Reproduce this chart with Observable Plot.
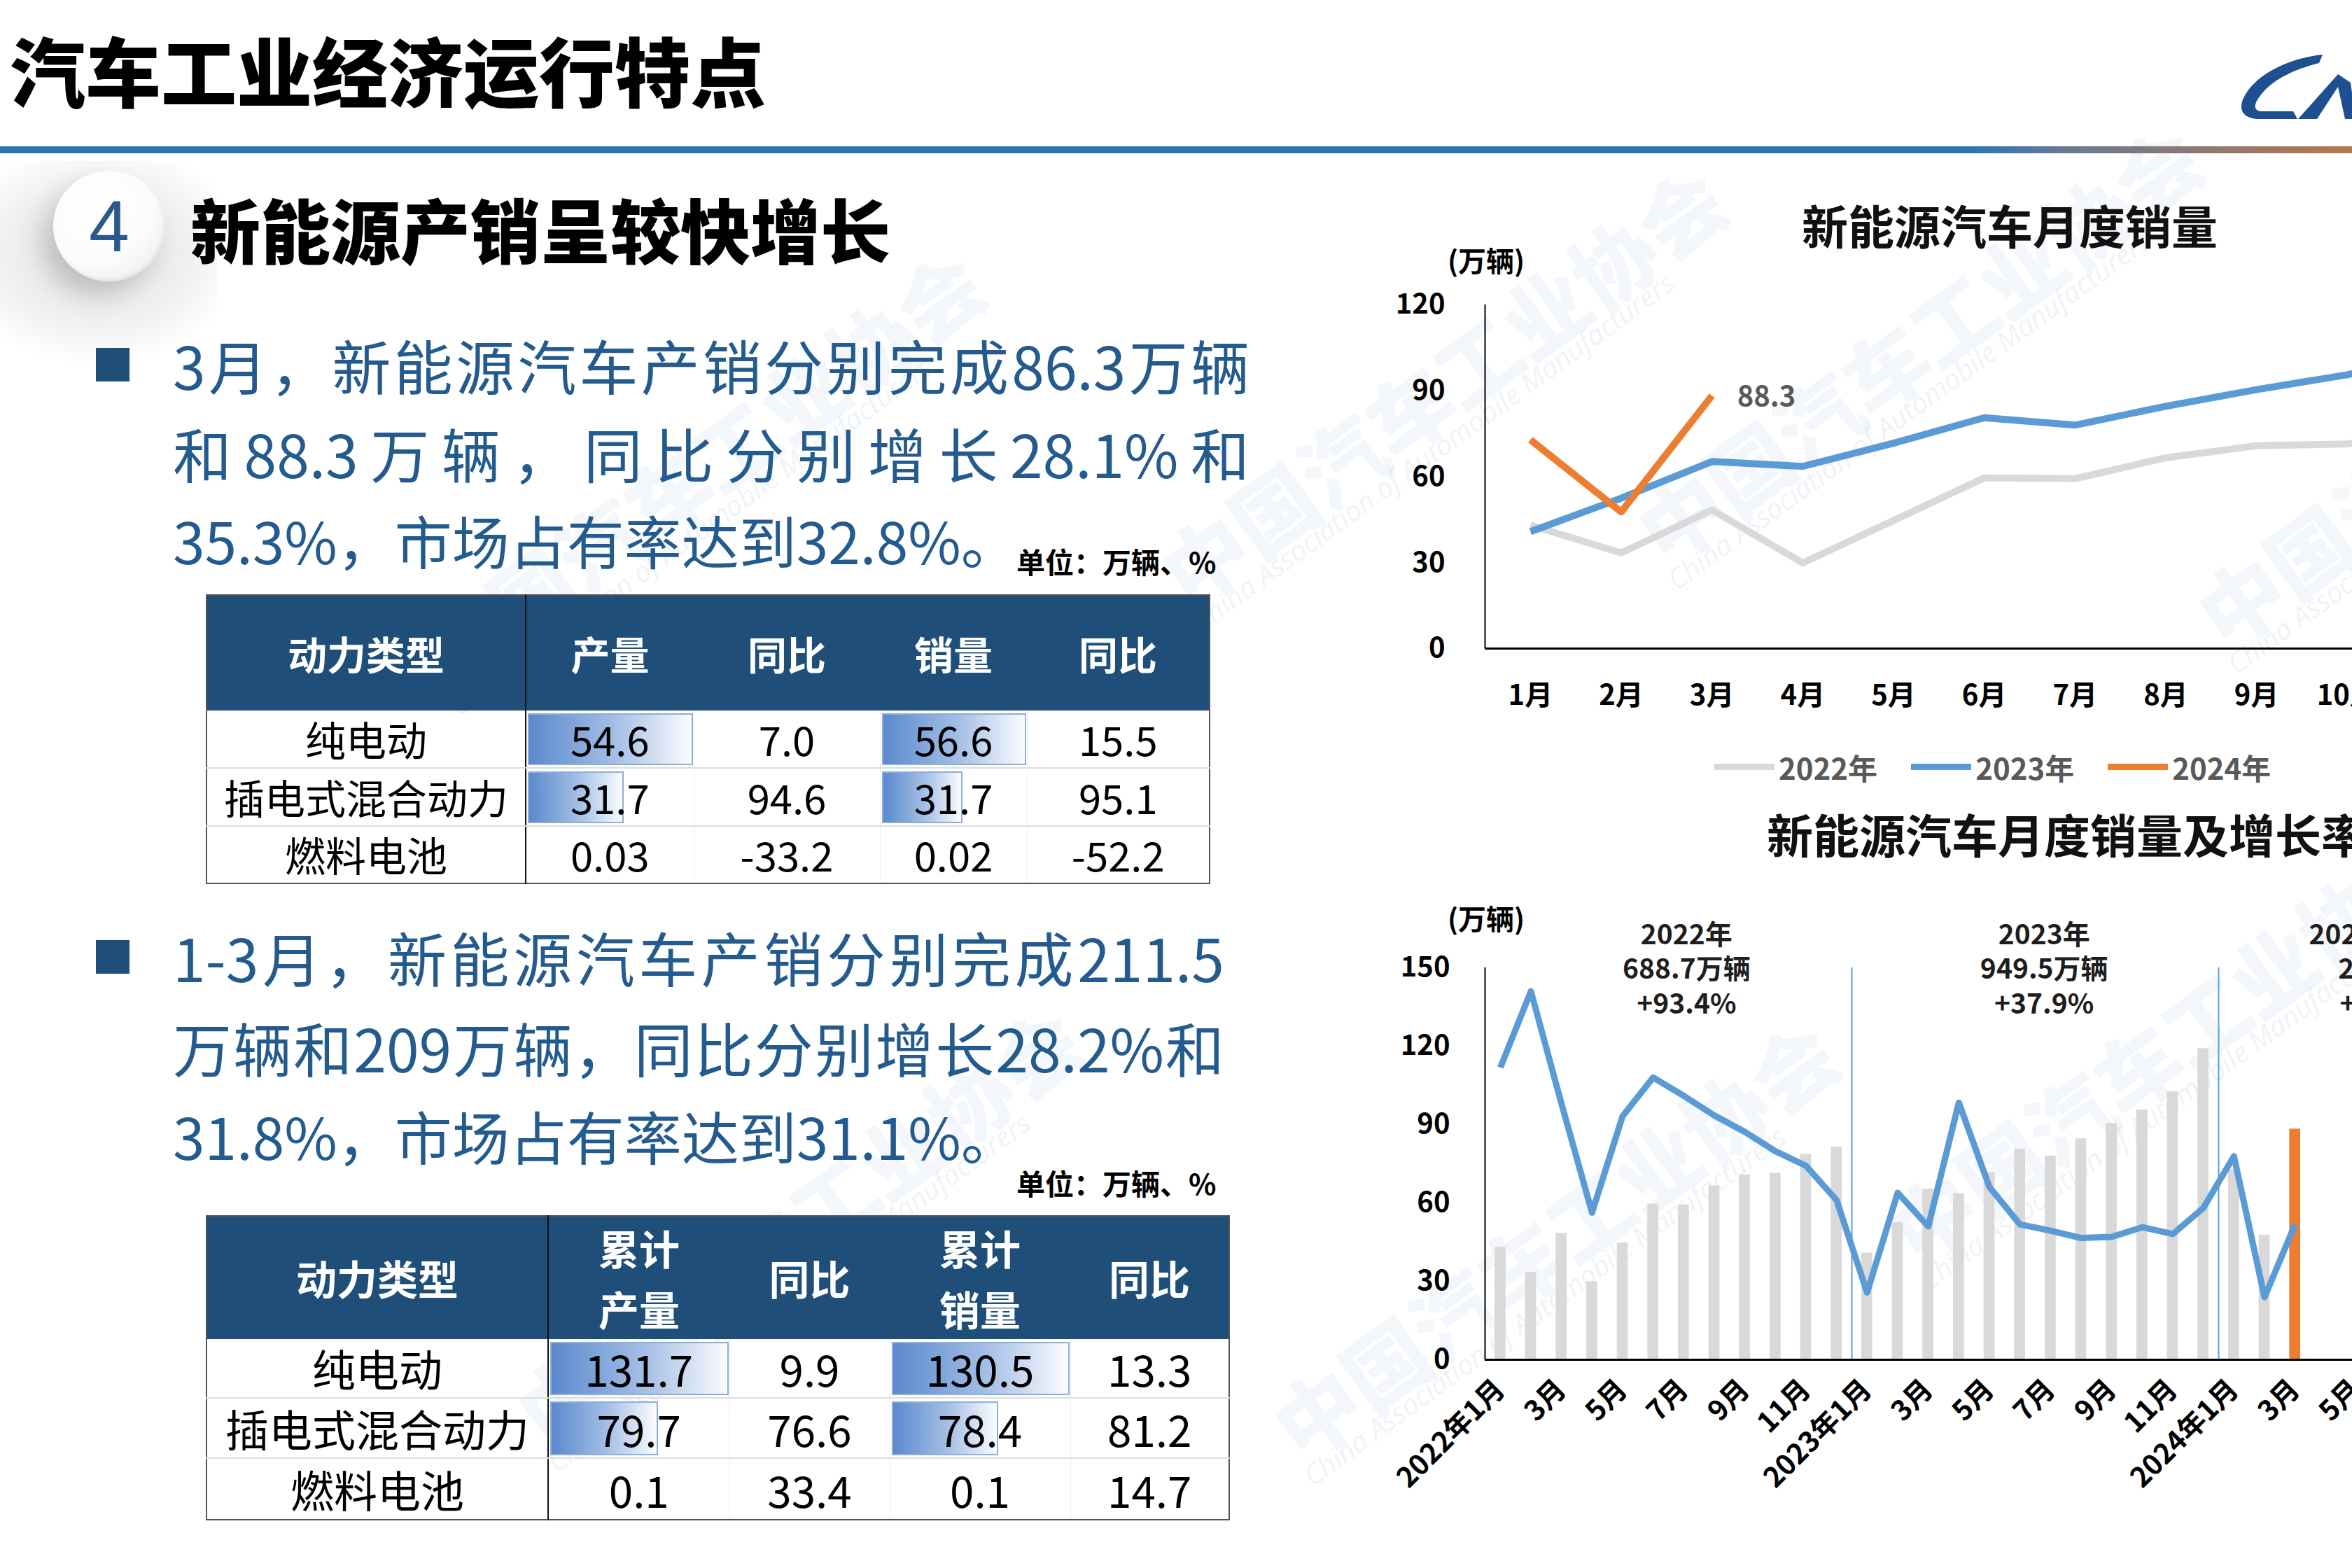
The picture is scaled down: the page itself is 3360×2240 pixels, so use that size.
<!DOCTYPE html>
<html><head><meta charset="utf-8">
<script src="https://cdn.jsdelivr.net/npm/d3@7"></script>
<script src="https://cdn.jsdelivr.net/npm/@observablehq/plot@0.6"></script>
<style>
html,body{margin:0;padding:0;}
body{width:3360px;height:2240px;overflow:hidden;position:relative;background:#fff;font-family:"Noto Sans CJK SC","Noto Sans",sans-serif;}
.abs{position:absolute;white-space:nowrap;}
.chart svg{max-width:none !important;}
.chart svg text{font-weight:700;}
table.t{position:absolute;border-collapse:collapse;table-layout:fixed;border:2px solid #555;}
table.t th{background:#1f4e79;color:#fff;font-weight:700;text-align:center;padding:0;line-height:1.5;}
table.t td{text-align:center;padding:0;color:#000;font-weight:400;position:relative;line-height:1.2;border-bottom:2px solid #dcdcdc;border-left:1px solid #ececec;}
table.t td.c0{border-right:2px solid #111;}
table.t th.c0{border-right:2px solid #111;}
table.t tr:last-child td{border-bottom:none;}
.bar{position:absolute;left:2px;top:4px;bottom:3px;background:linear-gradient(90deg,#5b89cd 0%,#a7c1e6 55%,#fbfcfe 100%);border:2px solid #8daedd;box-sizing:border-box;}
.cell{position:relative;z-index:1;}
.wm{position:absolute;white-space:nowrap;color:rgba(200,214,232,0.22);font-weight:900;transform-origin:0 0;}
.wme{position:absolute;white-space:nowrap;color:rgba(200,214,232,0.3);font-style:italic;transform-origin:0 0;font-family:"Open Sans",sans-serif;}
</style></head><body>
<script>
// ---------- DATA ----------
const pageTitle = "汽车工业经济运行特点";
const sectionNo = "4";
const sectionTitle = "新能源产销呈较快增长";
const bullet1Lines = ["3月，新能源汽车产销分别完成86.3万辆", "和88.3万辆，同比分别增长28.1%和", "35.3%，市场占有率达到32.8%。"];
const bullet2Lines = ["1-3月，新能源汽车产销分别完成211.5", "万辆和209万辆，同比分别增长28.2%和", "31.8%，市场占有率达到31.1%。"];
const unitText = "单位：万辆、%";

const powerTypes = ["纯电动", "插电式混合动力", "燃料电池"];
const table1Headers = ["动力类型", "产量", "同比", "销量", "同比"];
const marProduction = ["54.6", "31.7", "0.03"];
const marProductionYoY = ["7.0", "94.6", "-33.2"];
const marSales = ["56.6", "31.7", "0.02"];
const marSalesYoY = ["15.5", "95.1", "-52.2"];
const table2Headers = ["动力类型", "累计<br>产量", "同比", "累计<br>销量", "同比"];
const q1Production = ["131.7", "79.7", "0.1"];
const q1ProductionYoY = ["9.9", "76.6", "33.4"];
const q1Sales = ["130.5", "78.4", "0.1"];
const q1SalesYoY = ["13.3", "81.2", "14.7"];

const topTitle = "新能源汽车月度销量";
const unitLabel = "(万辆)";
const months = ["1月","2月","3月","4月","5月","6月","7月","8月","9月","10月","11月","12月"];
const seriesNames = ["2022年", "2023年", "2024年"];
const sales2022 = [43.1, 33.4, 48.4, 29.9, 44.7, 59.6, 59.3, 66.6, 70.8, 71.4, 78.6, 81.4];
const sales2023 = [40.8, 52.5, 65.3, 63.6, 71.7, 80.6, 78.0, 84.6, 90.4, 95.6, 102.6, 119.1];
const sales2024 = [72.9, 47.7, 88.3];
const topYTicks = [0, 30, 60, 90, 120];

const bottomTitle = "新能源汽车月度销量及增长率";
const bottomTickLabels = ["2022年1月","3月","5月","7月","9月","11月","2023年1月","3月","5月","7月","9月","11月","2024年1月","3月","5月","7月","9月","11月"];
const growthLine = [111.8, 141.0, 98.0, 56.3, 93.2, 108.0, 101.0, 93.5, 87.2, 79.8, 74.2, 61.1,
                    25.7, 63.9, 51.0, 98.4, 66.1, 51.8, 49.4, 46.6, 47.0, 50.7, 48.1, 58.1,
                    77.9, 23.9, 51.8];
const bottomYTicks = [0, 30, 60, 90, 120, 150];
const yearNames = ["2022年", "2023年", "2024年1-3月"];
const yearTotals = ["688.7万辆", "949.5万辆", "209万辆"];
const yearGrowth = ["+93.4%", "+37.9%", "+31.8%"];
const yearNoteMonth = [6, 17.7, 29];

// ---------- STYLE ----------
const FONT = "'Noto Sans CJK SC', 'Noto Sans', sans-serif";
const C_GREY = "#d9d9d9", C_BLUE = "#5b9bd5", C_ORANGE = "#ed7d31";
const seriesColors = [C_GREY, C_BLUE, C_ORANGE];
const TEXT_BLUE = "#245b8f";

function el(style, html, cls) {
  const e = document.createElement("div");
  e.setAttribute("style", style);
  if (cls) e.className = cls;
  if (html != null) e.innerHTML = html;
  document.body.appendChild(e);
  return e;
}

// ---------- watermarks ----------
[[560, 880], [1620, 760], [2300, 700], [1780, 1980], [2660, 1700], [3100, 820], [700, 1960]].forEach(([x, y]) => {
  el(`left:${x}px;top:${y}px;font-size:120px;transform:rotate(-36deg);`, "中国汽车工业协会", "wm");
  el(`left:${x + 70}px;top:${y + 110}px;font-size:40px;transform:rotate(-36deg);`, "China Association of Automobile Manufacturers", "wme");
});

// ---------- header ----------
el(`left:14px;top:44px;font-size:108px;line-height:108px;font-weight:900;color:#000;`, pageTitle, "abs");
el(`left:0;top:209px;width:3360px;height:10px;background:linear-gradient(90deg,#2e75b6 0%,#2e75b6 84%,#6a7a90 88%,#b5784f 100%);`, null, "abs");
el(`left:3190px;top:60px;width:180px;height:120px;`, `<svg width="180" height="120" viewBox="0 0 180 120">
<path d="M128,18 C85,22 32,44 15,80 C6,100 18,110 38,110 L92,110 L86,99 L42,99 C28,99 30,88 38,78 C56,52 92,38 123,30 Z" fill="#1d4f91"/>
<path d="M93,110 L120,110 L150,64 L160,110 L175,110 L168,58 L150,46 Z" fill="#1d4f91"/></svg>`, "abs");

el(`left:-70px;top:230px;width:380px;height:290px;background:radial-gradient(ellipse at 55% 45%, rgba(0,0,0,0.13) 0%, rgba(0,0,0,0.06) 45%, rgba(0,0,0,0) 72%);`, null, "abs");
el(`left:76px;top:244px;width:160px;height:158px;border-radius:50%;background:radial-gradient(circle at 38% 32%,#ffffff 0%,#fbfbfb 55%,#e6e6e6 100%);box-shadow:-16px 20px 34px rgba(0,0,0,0.16), inset -2px -3px 4px rgba(0,0,0,0.06);text-align:center;line-height:158px;font-size:104px;color:#2a5a8c;font-family:'Liberation Sans','Noto Sans',sans-serif;`, sectionNo, "abs");
el(`left:272px;top:276px;font-size:100px;line-height:100px;font-weight:900;color:#000;`, sectionTitle, "abs");

// ---------- bullet paragraphs ----------
function bullet(lines, squareTop, centers, width) {
  el(`left:137px;top:${squareTop}px;width:48px;height:48px;background:#1f4e79;`, null, "abs");
  lines.forEach((t, k) => {
    const just = k < lines.length - 1;
    el(`left:247px;top:${centers[k] - 42}px;${just ? `width:${width}px;text-align:justify;text-align-last:justify;` : ""}height:84px;line-height:84px;font-size:${just ? 84 : 82}px;color:${TEXT_BLUE};`, t, "abs");
  });
}
bullet(bullet1Lines, 497, [521, 647, 771], 1538);
bullet(bullet2Lines, 1343, [1367, 1496, 1622], 1502);
el(`left:1452px;top:778px;font-size:41px;line-height:46px;font-weight:700;color:#000;`, unitText, "abs");
el(`left:1452px;top:1666px;font-size:41px;line-height:46px;font-weight:700;color:#000;`, unitText, "abs");

// ---------- tables ----------
function buildTable({left, top, colW, headH, rowH, headers, cols, barCols, headFont, bodyFont}) {
  const t = document.createElement("table");
  t.className = "t";
  t.style.left = left + "px"; t.style.top = top + "px";
  t.style.width = d3.sum(colW) + "px";
  let html = "<colgroup>" + colW.map(w => `<col style="width:${w}px">`).join("") + "</colgroup>";
  html += `<tr style="height:${headH}px">` + headers.map((h, k) => `<th class="c${k}" style="font-size:${headFont}px">${h}</th>`).join("") + "</tr>";
  const scales = {};
  barCols.forEach(c => {
    const mx = d3.max(cols[c], d => +d);
    scales[c] = d3.scaleLinear().domain([0, mx]).range([0, colW[c] - 4]);
  });
  powerTypes.forEach((p, r) => {
    html += `<tr style="height:${rowH[r]}px">`;
    for (let c = 0; c < colW.length; c++) {
      const txt = c === 0 ? p : cols[c][r];
      let inner = `<span class="cell">${txt}</span>`;
      if (scales[c]) {
        const w = scales[c](+cols[c][r]);
        if (w > 6) inner = `<div class="bar" style="width:${w}px"></div>` + inner;
      }
      html += `<td class="c${c}" style="font-size:${bodyFont}px">${inner}</td>`;
    }
    html += "</tr>";
  });
  t.innerHTML = html;
  document.body.appendChild(t);
}
buildTable({left: 294, top: 849, colW: [456, 240, 266, 210, 261], headH: 165, rowH: [82, 83, 82],
  headers: table1Headers, cols: [null, marProduction, marProductionYoY, marSales, marSalesYoY], barCols: [1, 3], headFont: 56, bodyFont: 58});
buildTable({left: 294, top: 1736, colW: [488, 259, 229, 258, 227], headH: 176, rowH: [84, 86, 88],
  headers: table2Headers, cols: [null, q1Production, q1ProductionYoY, q1Sales, q1SalesYoY], barCols: [1, 3], headFont: 58, bodyFont: 62});

// ---------- top chart ----------
el(`left:2871px;top:284px;transform:translateX(-50%);font-size:66px;line-height:72px;font-weight:700;color:#111;`, topTitle, "abs");
el(`left:2068px;top:346px;font-size:40px;line-height:50px;font-weight:700;color:#000;`, unitLabel, "abs");

const topData = [];
[sales2022, sales2023, sales2024].forEach((arr, k) => arr.forEach((v, j) => topData.push({m: j + 1, v, s: seriesNames[k]})));
const topXDomain = [0.5, months.length + 0.5];
const topYDomain = [0, d3.max(topYTicks)];
const lastPoint = topData.filter(d => d.s === seriesNames[2]).slice(-1);

const topPlot = Plot.plot({
  width: 1740, height: 646, marginLeft: 161, marginRight: 23, marginTop: 55, marginBottom: 100,
  x: {domain: topXDomain},
  y: {domain: topYDomain},
  color: {domain: seriesNames, range: seriesColors},
  style: {fontFamily: FONT, background: "transparent", overflow: "visible", color: "#000", maxWidth: "none"},
  marks: [
    Plot.axisY({ticks: topYTicks, tickSize: 0, tickPadding: 57, fontSize: 40, label: null}),
    Plot.axisX({ticks: d3.range(1, months.length + 1), tickFormat: d => months[d - 1], tickSize: 0, tickPadding: 52, fontSize: 40, label: null}),
    Plot.ruleX([topXDomain[0]], {y1: topYDomain[0], y2: topYDomain[1], stroke: "#000", strokeWidth: 2}),
    Plot.ruleY([0], {stroke: "#000", strokeWidth: 3}),
    Plot.line(topData, {x: "m", y: "v", z: "s", stroke: "s", strokeWidth: 10, strokeLinejoin: "round", strokeLinecap: "butt"}),
    Plot.text(lastPoint, {x: "m", y: "v", text: d => d.v.toFixed(1), dx: 36, dy: 2, textAnchor: "start", fill: "#595959", fontSize: 40, fontWeight: 700})
  ]
});
const topWrap = el(`left:1960px;top:380px;width:1740px;height:646px;`, null, "abs chart");
topWrap.appendChild(topPlot);

const legend = el(`left:2449px;top:1068px;height:54px;display:flex;align-items:center;font-size:42px;font-weight:700;color:#595959;`, null, "abs");
seriesNames.forEach((n, k) => {
  legend.innerHTML += `<span style="display:inline-block;width:86px;height:9px;background:${seriesColors[k]};margin-right:6px;"></span><span style="margin-right:${k < 2 ? 48 : 0}px">${n}</span>`;
});

// ---------- bottom chart ----------
el(`left:2524px;top:1154px;font-size:66px;line-height:72px;font-weight:700;color:#111;`, bottomTitle, "abs");
el(`left:2068px;top:1286px;font-size:40px;line-height:50px;font-weight:700;color:#000;`, unitLabel, "abs");

const allSales = sales2022.concat(sales2023, sales2024);
const nMonths = bottomTickLabels.length * 2;
const barData = allSales.map((v, i) => ({i, v, latest: i === allSales.length - 1}));
const growthData = growthLine.map((g, i) => ({i, g}));
const yearStarts = [sales2022.length, sales2022.length + sales2023.length];
const bottomYDomain = [0, d3.max(bottomYTicks)];
const annotations = yearNames.map((y, k) => ({i: yearNoteMonth[k], text: `${y}\n${yearTotals[k]}\n${yearGrowth[k]}`}));

const bottomPlot = Plot.plot({
  width: 1753, height: 900, marginLeft: 161, marginRight: 20, marginTop: 42, marginBottom: 298,
  x: {domain: [-0.5, nMonths - 0.5]},
  y: {domain: bottomYDomain},
  style: {fontFamily: FONT, background: "transparent", overflow: "visible", color: "#000", maxWidth: "none"},
  marks: [
    Plot.rectY(barData, {x1: d => d.i - 0.5, x2: d => d.i + 0.5, y: "v", insetLeft: 14, insetRight: 14, fill: d => d.latest ? C_ORANGE : C_GREY}),
    Plot.ruleX(yearStarts, {x: d => d - 0.5, y1: bottomYDomain[0], y2: bottomYDomain[1], stroke: C_BLUE, strokeWidth: 2}),
    Plot.line(growthData, {x: "i", y: "g", stroke: C_BLUE, strokeWidth: 9, strokeLinejoin: "round", strokeLinecap: "butt"}),
    Plot.axisY({ticks: bottomYTicks, tickSize: 0, tickPadding: 50, fontSize: 40, label: null}),
    Plot.axisX({ticks: bottomTickLabels.map((_, k) => 2 * k), tickFormat: i => bottomTickLabels[i / 2], tickRotate: -45, tickSize: 0, tickPadding: 36, fontSize: 40, label: null}),
    Plot.ruleX([-0.5], {y1: bottomYDomain[0], y2: bottomYDomain[1], stroke: "#000", strokeWidth: 2}),
    Plot.ruleY([0], {stroke: "#000", strokeWidth: 3}),
    Plot.text(annotations, {x: "i", y: bottomYDomain[1], text: "text", lineAnchor: "middle", lineHeight: 1.28, fontSize: 39, fontWeight: 700, fill: "#1e1e1e", dx: 4})
  ]
});
const botWrap = el(`left:1960px;top:1340px;width:1753px;height:900px;`, null, "abs chart");
botWrap.appendChild(bottomPlot);
</script>
</body></html>
